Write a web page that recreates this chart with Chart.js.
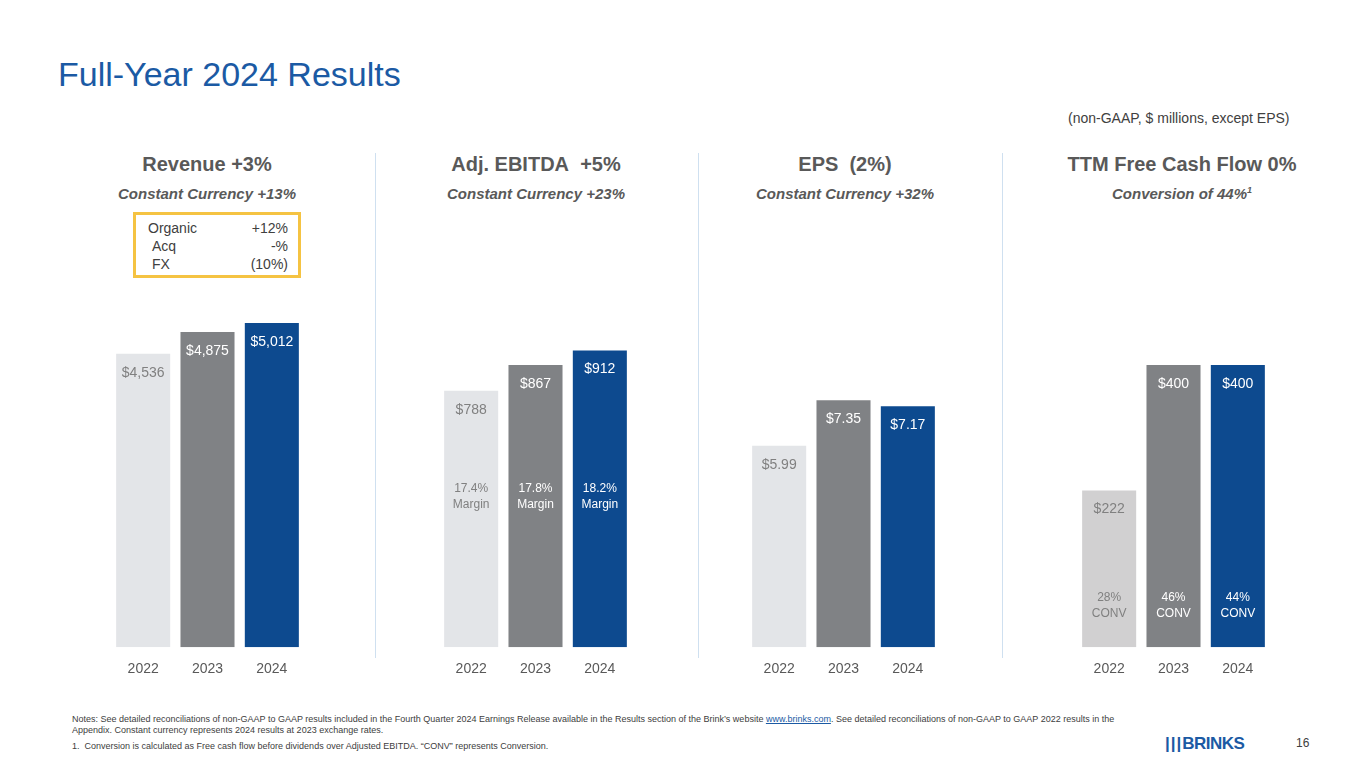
<!DOCTYPE html>
<html><head><meta charset="utf-8">
<script src="https://cdn.jsdelivr.net/npm/chart.js@4"></script>
<style>
body{margin:0;width:1365px;height:768px;background:#fff;font-family:Arial,"Liberation Sans",sans-serif;position:relative;overflow:hidden}
.a{position:absolute}
h1{position:absolute;left:58px;top:55px;margin:0;font-weight:normal;font-size:34px;color:#1b5aa4}
.hd{position:absolute;width:320px;text-align:center;font-weight:bold;color:#595959}
.t{font-size:20px;top:153px}
.s{font-size:15px;font-style:italic;top:185px}
.sep{position:absolute;width:1px;top:153px;height:505px;background:#cfe0f0}
canvas{position:absolute}
</style></head><body>
<h1>Full-Year 2024 Results</h1>
<div class="a" style="left:1068px;top:110px;font-size:14px;color:#404040">(non-GAAP, $ millions, except EPS)</div>
<div class="hd t" style="left:47px">Revenue +3%</div>
<div class="hd s" style="left:47px">Constant Currency +13%</div>
<div class="hd t" style="left:376px">Adj. EBITDA&nbsp; +5%</div>
<div class="hd s" style="left:376px">Constant Currency +23%</div>
<div class="hd t" style="left:685px">EPS&nbsp; (2%)</div>
<div class="hd s" style="left:685px">Constant Currency +32%</div>
<div class="hd t" style="left:1022px">TTM Free Cash Flow 0%</div>
<div class="hd s" style="left:1022px">Conversion of 44%<sup style="font-size:9px">1</sup></div>
<div class="a" style="left:133px;top:212px;width:162px;height:58px;border:3px solid #f5c342;font-size:14px;color:#404040;line-height:18px;padding:2px 0 0 0">
<div style="position:absolute;left:12px;top:4px">Organic<br>&nbsp;Acq<br>&nbsp;FX</div>
<div style="position:absolute;right:10px;top:4px;text-align:right">+12%<br>-%<br>(10%)</div></div>
<div class="sep" style="left:375px"></div><div class="sep" style="left:698px"></div><div class="sep" style="left:1002px"></div>
<canvas id="c1" class="a" style="left:111px;top:300px" width="193" height="384"></canvas>
<canvas id="c2" class="a" style="left:439px;top:300px" width="193" height="384"></canvas>
<canvas id="c3" class="a" style="left:747px;top:300px" width="193" height="384"></canvas>
<canvas id="c4" class="a" style="left:1077px;top:300px" width="193" height="384"></canvas>
<div class="a" style="left:72px;top:714px;font-size:9px;color:#404040;width:1060px;line-height:11px">Notes: See detailed reconciliations of non-GAAP to GAAP results included in the Fourth Quarter 2024 Earnings Release available in the Results section of the Brink’s website <span style="color:#1b5aa4;text-decoration:underline">www.brinks.com</span>. See detailed reconciliations of non-GAAP to GAAP 2022 results in the Appendix. Constant currency represents 2024 results at 2023 exchange rates.</div>
<div class="a" style="left:72px;top:741px;font-size:9px;color:#404040">1.&nbsp; Conversion is calculated as Free cash flow before dividends over Adjusted EBITDA. “CONV” represents Conversion.</div>
<div class="a" style="left:1165px;top:734px;font-size:17px;font-weight:900;color:#1b5aa4;letter-spacing:-0.5px"><span style="letter-spacing:1px">|||</span>BRINKS</div>
<div class="a" style="left:1296px;top:736px;font-size:12px;color:#404040">16</div>
<script>
const years=["2022","2023","2024"];
const revenue=[4536,4875,5012];
const ebitda=[788,867,912];
const ebitdaMargin=["17.4%","17.8%","18.2%"];
const eps=[5.99,7.35,7.17];
const fcf=[222,400,400];
const fcfConv=["28%","46%","44%"];
const colors=["#e3e5e8","#808285","#0d4a8f"];
const fcfColors=["#d1d0d1","#808285","#0d4a8f"];
const txt=["#808080","#ffffff","#ffffff"];
function mk(id,data,max,fmt,sub,subY,cols){
 new Chart(document.getElementById(id),{type:'bar',
  data:{labels:years,datasets:[{data:data,backgroundColor:cols||colors,barPercentage:0.84,categoryPercentage:1}]},
  options:{responsive:false,animation:false,layout:{padding:0},
   plugins:{legend:{display:false},tooltip:{enabled:false}},
   scales:{y:{display:false,min:0,max:max},
    x:{grid:{display:false},border:{display:false},ticks:{color:'#595959',font:{size:14,family:'Arial'},padding:6}}}},
  plugins:[{afterDatasetsDraw(c){const ctx=c.ctx;const m=c.getDatasetMeta(0);ctx.save();ctx.textAlign='center';
   m.data.forEach((b,i)=>{ctx.fillStyle=txt[i];ctx.font='14px Arial';ctx.textBaseline='middle';
    ctx.fillText(fmt(data[i]),b.x,b.y+19);
    if(sub){ctx.font='12px Arial';const l=sub[i];ctx.fillText(l[0],b.x,subY);ctx.fillText(l[1],b.x,subY+16);}});
   ctx.restore();}}]});
}
mk('c1',revenue,5368,v=>'$'+v.toLocaleString('en-US'));
mk('c2',ebitda,1067,v=>'$'+v,ebitdaMargin.map(m=>[m,'Margin']),189);
mk('c3',eps,10.33,v=>'$'+v.toFixed(2));
mk('c4',fcf,492,v=>'$'+v,fcfConv.map(m=>[m,'CONV']),298,fcfColors);
</script></body></html>
